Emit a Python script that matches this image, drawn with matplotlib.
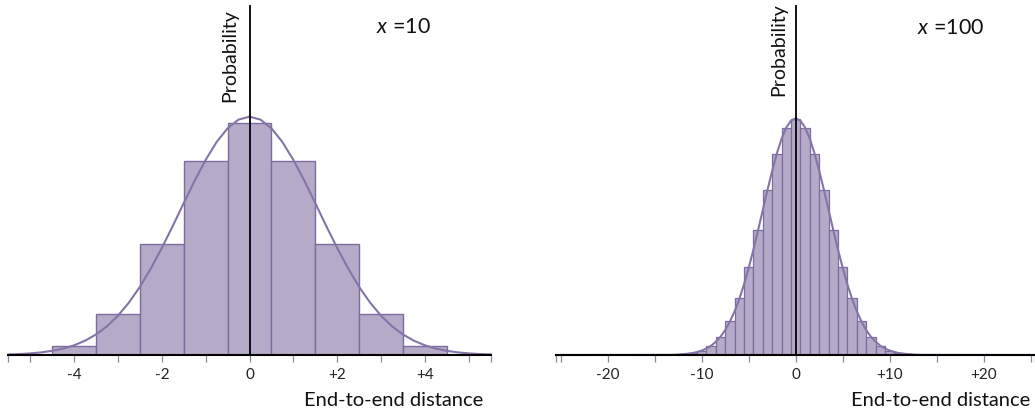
import matplotlib
matplotlib.use("Agg")
import matplotlib.pyplot as plt

plt.rcParams['font.family'] = ['Lato', 'DejaVu Sans']
plt.rcParams['mathtext.fontset'] = 'custom'
plt.rcParams['mathtext.it'] = 'Lato:italic'
plt.rcParams['mathtext.rm'] = 'Lato'

# ---------------- data ----------------
# Left panel (x = 10): histogram bars (centres, probabilities)
left_bar_x = [-4, -3, -2, -1, 0, 1, 2, 3, 4]
left_bar_p = [0.0098, 0.0439, 0.1172, 0.2051, 0.2461, 0.2051, 0.1172, 0.0439, 0.0098]

# Left panel smooth curve
left_curve_x = [-5.5, -5.25, -5.0, -4.75, -4.5, -4.25, -4.0, -3.75, -3.5, -3.25, -3.0,
                -2.75, -2.5, -2.25, -2.0, -1.75, -1.5, -1.25, -1.0, -0.75, -0.5, -0.25,
                0.0, 0.25, 0.5, 0.75, 1.0, 1.25, 1.5, 1.75, 2.0, 2.25, 2.5, 2.75, 3.0,
                3.25, 3.5, 3.75, 4.0, 4.25, 4.5, 4.75, 5.0, 5.25, 5.5]
left_curve_p = [0.0006, 0.0010, 0.0017, 0.0028, 0.0044, 0.0068, 0.0103, 0.0152, 0.0218,
                0.0305, 0.0417, 0.0556, 0.0723, 0.0917, 0.1134, 0.1367, 0.1609, 0.1846,
                0.2066, 0.2255, 0.2400, 0.2492, 0.2523, 0.2492, 0.2400, 0.2255, 0.2066,
                0.1846, 0.1609, 0.1367, 0.1134, 0.0917, 0.0723, 0.0556, 0.0417, 0.0305,
                0.0218, 0.0152, 0.0103, 0.0068, 0.0044, 0.0028, 0.0017, 0.0010, 0.0006]

# Right panel (x = 100): histogram bars
right_bar_x = [-13, -12, -11, -10, -9, -8, -7, -6, -5, -4, -3, -2, -1, 0,
               1, 2, 3, 4, 5, 6, 7, 8, 9, 10, 11, 12, 13]
right_bar_p = [0.0001, 0.0003, 0.0008, 0.0020, 0.0044, 0.0087, 0.0160, 0.0270, 0.0419,
               0.0598, 0.0788, 0.0960, 0.1080, 0.1123, 0.1080, 0.0960, 0.0788, 0.0598,
               0.0419, 0.0270, 0.0160, 0.0087, 0.0044, 0.0020, 0.0008, 0.0003, 0.0001]

# Right panel smooth curve
right_curve_x = [-25.5, -14.0, -13.0, -12.5, -12.0, -11.5, -11.0, -10.5, -10.0, -9.5, -9.0,
                 -8.5, -8.0, -7.5, -7.0, -6.5, -6.0, -5.5, -5.0, -4.5, -4.0, -3.5, -3.0,
                 -2.5, -2.0, -1.5, -1.0, -0.5, 0.0, 0.5, 1.0, 1.5, 2.0, 2.5, 3.0, 3.5,
                 4.0, 4.5, 5.0, 5.5, 6.0, 6.5, 7.0, 7.5, 8.0, 8.5, 9.0, 9.5, 10.0, 10.5,
                 11.0, 11.5, 12.0, 12.5, 13.0, 14.0, 25.5]
right_curve_p = [0.0, 0.00005, 0.0001, 0.0002, 0.0004, 0.0006, 0.0009, 0.0014, 0.0021,
                 0.0031, 0.0044, 0.0063, 0.0087, 0.0119, 0.0159, 0.0208, 0.0267, 0.0336,
                 0.0415, 0.0502, 0.0595, 0.0691, 0.0787, 0.0878, 0.0961, 0.1031, 0.1084,
                 0.1117, 0.1128, 0.1117, 0.1084, 0.1031, 0.0961, 0.0878, 0.0787, 0.0691,
                 0.0595, 0.0502, 0.0415, 0.0336, 0.0267, 0.0208, 0.0159, 0.0119, 0.0087,
                 0.0063, 0.0044, 0.0031, 0.0021, 0.0014, 0.0009, 0.0006, 0.0004, 0.0002,
                 0.0001, 0.00005, 0.0]

left_ticks = [-5.5, -5, -4, -3, -2, -1, 0, 1, 2, 3, 4, 5, 5.5]
left_labeled = [-4, -2, 0, 2, 4]
left_labels = ["-4", "-2", "0", "+2", "+4"]
right_ticks = [-25.5, -25, -20, -15, -10, -5, 0, 5, 10, 15, 20, 25, 25.5]
right_labeled = [-20, -10, 0, 10, 20]
right_labels = ["-20", "-10", "0", "+10", "+20"]

titles = ["$x$ =10", "$x$ =100"]
xlabel = "End-to-end distance"
ylabel = "Probability"

# ---------------- style ----------------
fill_c = '#b5abc8'
edge_c = '#7e6c9f'
curve_c = '#8574a6'
tick_c = '#8f86a3'

W, H = 1035, 415
fig = plt.figure(figsize=(W / 100, H / 100), dpi=100)

bottom = 60 / H
height = (355 - 6) / H
ax1 = fig.add_axes([8.5 / W, bottom, 482 / W, height])
ax2 = fig.add_axes([556 / W, bottom, 479.4 / W, height])


def style(ax, xlim, ylim, ticks, labeled, labels):
    ax.set_xlim(*xlim)
    ax.set_ylim(*ylim)
    for s in ['top', 'right']:
        ax.spines[s].set_visible(False)
    ax.spines['left'].set_position(('data', 0))
    ax.spines['left'].set_color('black')
    ax.spines['left'].set_linewidth(1.3)
    ax.spines['left'].set_zorder(5)
    ax.spines['bottom'].set_color('black')
    ax.spines['bottom'].set_linewidth(1.5)
    ax.spines['bottom'].set_zorder(5)
    ax.set_yticks([])
    minor = [t for t in ticks if t not in labeled]
    ax.set_xticks(labeled)
    ax.set_xticklabels(labels)
    ax.set_xticks(minor, minor=True)
    ax.tick_params(axis='x', which='both', direction='out', length=5, width=0.9,
                   color=tick_c, labelsize=11, labelcolor='#222222', pad=4)
    ax.patch.set_alpha(0)


ax1.bar(left_bar_x, left_bar_p, width=1.0, color=fill_c, edgecolor=edge_c,
        linewidth=1.0, zorder=2)
ax1.plot(left_curve_x, left_curve_p, color=curve_c, lw=1.5, zorder=3, clip_on=False)
style(ax1, (-5.5, 5.5), (0, 349 / 944.6), left_ticks, left_labeled, left_labels)

ax2.bar(right_bar_x, right_bar_p, width=1.0, color=fill_c, edgecolor=edge_c,
        linewidth=0.9, zorder=2)
ax2.plot(right_curve_x, right_curve_p, color=curve_c, lw=1.5, zorder=3, clip_on=False)
style(ax2, (-25.5, 25.5), (0, 349 / 2098), right_ticks, right_labeled, right_labels)

# texts
fs_lab = 14.5
fig.text(483 / W, 1 - 400 / H, xlabel, ha='right', va='center', fontsize=fs_lab, color='#111111')
fig.text(1030 / W, 1 - 400 / H, xlabel, ha='right', va='center', fontsize=fs_lab, color='#111111')
fig.text(238 / W, 1 - 9 / H, ylabel, rotation=90, ha='right', va='top', fontsize=14, color='#111111')
fig.text(787 / W, 1 - 3 / H, ylabel, rotation=90, ha='right', va='top', fontsize=14, color='#111111')
fig.text(376 / W, 1 - 27 / H, titles[0], ha='left', va='center', fontsize=15.5, color='#111111')
fig.text(917 / W, 1 - 28 / H, titles[1], ha='left', va='center', fontsize=15.5, color='#111111')

fig.savefig('out.png', dpi=100)
